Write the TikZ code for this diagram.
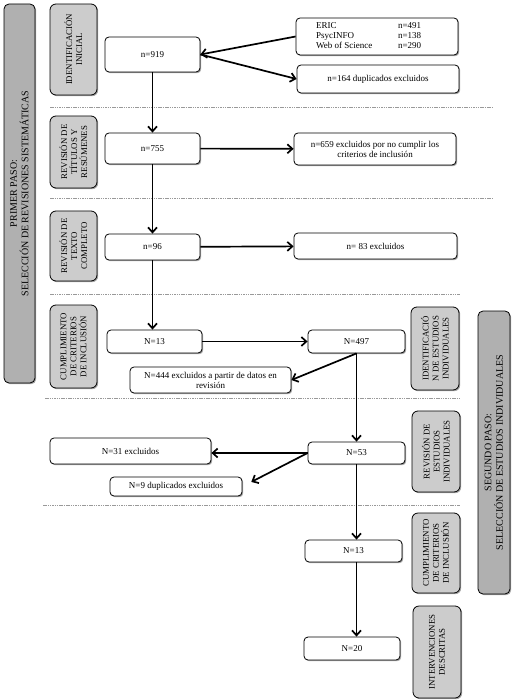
\documentclass[tikz,border=0pt]{standalone}
\usepackage{fontspec}
\setmainfont{Liberation Serif}
\usetikzlibrary{arrows.meta,shadows}
\tikzset{
  shad/.style={drop shadow={shadow xshift=1.2pt,shadow yshift=-1.2pt,fill=black,opacity=0.35}},
  box/.style={draw,rounded corners=4pt,line width=0.8pt,fill=white,shad,align=center,
    font=\fontsize{9}{10}\selectfont,inner sep=1pt},
  lab/.style={draw,rounded corners=6pt,line width=0.8pt,fill=gray!40,shad,align=center,
    rotate=90,font=\fontsize{8.8}{10}\selectfont,inner sep=1pt},
  band/.style={draw,rounded corners=5pt,line width=0.8pt,fill=gray!62,shad,align=center,
    rotate=90,font=\fontsize{10}{11.5}\selectfont,inner sep=1pt},
  arr/.style={line width=1.7pt,-{Straight Barb[length=5pt,width=9pt]}},
  sep/.style={gray!80,line width=0.7pt,dash pattern=on 1.5pt off 0.8pt}
}
\begin{document}
\begin{tikzpicture}[x=1pt,y=-1pt]
\useasboundingbox (0,0) rectangle (514,700);
% separators
\draw[sep] (50,107) -- (493,107);
\draw[sep] (50,198) -- (493,198);
\draw[sep] (50,294) -- (460,294);
\draw[sep] (45,398) -- (460,398);
\draw[sep] (43,505) -- (460,505);
% bands
\node[band,minimum width=379pt,minimum height=31pt] (band1) at (19.5,193.5) {PRIMER PASO:\\SELECCIÓN DE REVISIONES SISTEMÁTICAS};
\node[band,minimum width=283pt,minimum height=32pt] (band2) at (494,452.5) {SEGUNDO PASO:\\SELECCIÓN DE ESTUDIOS INDIVIDUALES};
% stage labels
\node[lab,minimum width=91pt,minimum height=47pt] (lab1) at (73.5,49.5) {IDENTIFICACIÓN\\INICIAL};
\node[lab,minimum width=72pt,minimum height=47pt] (lab2) at (73.5,152) {REVISIÓN DE\\TÍTULOS Y\\RESÚMENES};
\node[lab,minimum width=70pt,minimum height=47pt] (lab3) at (73.5,246) {REVISIÓN DE\\TEXTO\\COMPLETO};
\node[lab,minimum width=83pt,minimum height=47pt] (lab4) at (73.5,346.5) {CUMPLIMIENTO\\DE CRITERIOS\\DE INCLUSIÓN};
\node[lab,minimum width=83pt,minimum height=48pt] (lab5) at (435,348.5) {IDENTIFICACIÓ\\N DE ESTUDIOS\\INDIVIDUALES};
\node[lab,minimum width=81pt,minimum height=48pt] (lab6) at (436,451.5) {REVISIÓN DE\\ESTUDIOS\\INDIVIDUALES};
\node[lab,minimum width=80pt,minimum height=48pt] (lab7) at (436,553) {CUMPLIMIENTO\\DE CRITERIOS\\DE INCLUSIÓN};
\node[lab,minimum width=92pt,minimum height=48pt] (lab8) at (437,652) {INTERVENCIONES\\DESCRITAS};
% main boxes
\node[box,minimum width=95pt,minimum height=35pt] (n919) at (152.5,54.5) {n=919};
\node[box,minimum width=95pt,minimum height=31pt] (n755) at (152.5,148.5) {n=755};
\node[box,minimum width=95pt,minimum height=26pt] (n96) at (152.5,247) {n=96};
\node[box,minimum width=95pt,minimum height=23pt] (N13a) at (154.5,341.5) {N=13};
\node[box,minimum width=161pt,minimum height=26pt] (N444) at (210.5,380) {N=444 excluidos a partir de datos en\\revisión};
\node[box,minimum width=97pt,minimum height=23pt] (N497) at (356.5,341.5) {N=497};
\node[box,minimum width=162pt,minimum height=37pt] (eric) at (377,36.5)
  {\begin{tabular}{@{}p{82pt}@{}p{40pt}@{}}ERIC & n=491\\PsycINFO & n=138\\Web of Science & n=290\end{tabular}};
\node[box,minimum width=162pt,minimum height=28pt] (n164) at (378,79) {n=164 duplicados excluidos};
\node[box,minimum width=162pt,minimum height=32pt] (n659) at (375,149) {n=659 excluidos por no cumplir los\\criterios de inclusión};
\node[box,minimum width=163pt,minimum height=26pt] (n83) at (375.5,246) {n= 83 excluidos};
\node[box,minimum width=161pt,minimum height=26pt] (N31) at (130.5,451) {N=31 excluidos};
\node[box,minimum width=132pt,minimum height=19pt] (N9) at (176,486.5) {N=9 duplicados excluidos};
\node[box,minimum width=97pt,minimum height=22pt] (N53) at (356.5,453) {N=53};
\node[box,minimum width=97pt,minimum height=22pt] (N13b) at (353.5,551) {N=13};
\node[box,minimum width=96pt,minimum height=23pt] (N20) at (352,648.5) {N=20};
% connectors
\draw[arr] (eric.west) -- (n919.east);
\draw[arr] (n919.east) -- (n164.west);
\draw[arr] (n919) -- (n755);
\draw[arr] (n755) -- (n659);
\draw[arr] (n755) -- (n96);
\draw[arr] (n96) -- (n83);
\draw[arr] (n96.south) -- (n96.south |- N13a.north);
\draw[arr] (N13a) -- (N497);
\draw[arr] (N497.south) -- (N444.east);
\draw[arr] (N497) -- (N53);
\draw[arr] (N53.west) -- (N53.west -| N31.east);
\draw[arr,shorten >=10pt] (N53.west) -- (N9.east);
\draw[arr] (N53.south) -- (N53.south |- N13b.north);
\draw[arr] (N13b.south -| N53.south) -- (N53.south |- N20.north);
\end{tikzpicture}
\end{document}
